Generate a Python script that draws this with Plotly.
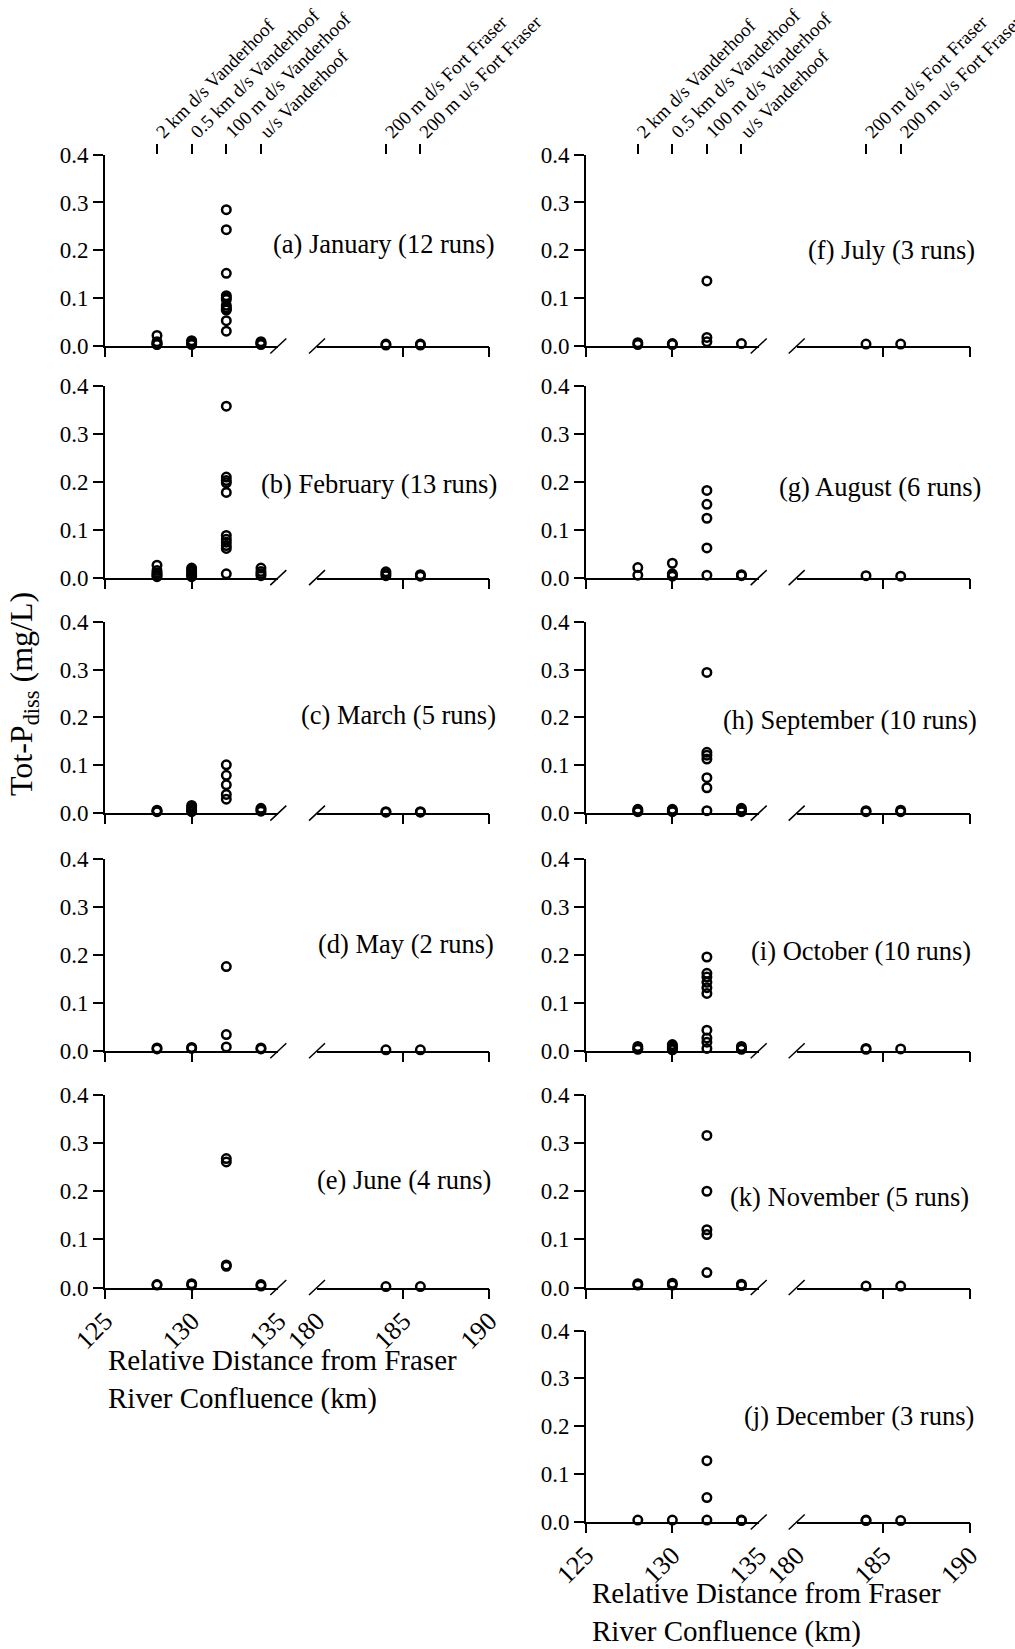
import plotly.graph_objects as go

# ---------------- data ----------------
site_km = [128, 130, 132, 134, 184, 186]
site_labels = ["2 km d/s Vanderhoof", "0.5 km d/s Vanderhoof", "100 m d/s Vanderhoof",
               "u/s Vanderhoof", "200 m d/s Fort Fraser", "200 m u/s Fort Fraser"]
left_ticks = [125, 130, 135]
right_ticks = [180, 185, 190]
y_ticks = [0.0, 0.1, 0.2, 0.3, 0.4]
y_ticktext = ["0.0", "0.1", "0.2", "0.3", "0.4"]

# values per site (order of site_km)
january = [
    [0.022, 0.009, 0.006, 0.004, 0.003],
    [0.011, 0.009, 0.007, 0.005, 0.003],
    [0.285, 0.243, 0.152, 0.105, 0.101, 0.097, 0.085, 0.080, 0.077, 0.075, 0.053, 0.031],
    [0.009, 0.007, 0.005, 0.003],
    [0.004, 0.002],
    [0.004, 0.002],
]
february = [
    [0.026, 0.015, 0.010, 0.007, 0.004, 0.002],
    [0.020, 0.016, 0.012, 0.008, 0.005, 0.002],
    [0.358, 0.210, 0.203, 0.198, 0.178, 0.088, 0.080, 0.074, 0.067, 0.061, 0.008],
    [0.020, 0.013, 0.008, 0.004],
    [0.012, 0.008, 0.004],
    [0.006, 0.003],
]
march = [
    [0.006, 0.004, 0.003],
    [0.016, 0.012, 0.008, 0.005, 0.003],
    [0.101, 0.079, 0.059, 0.039, 0.029],
    [0.010, 0.007, 0.004],
    [0.003, 0.002],
    [0.003, 0.002],
]
may = [
    [0.006, 0.004],
    [0.007, 0.005],
    [0.176, 0.034, 0.008],
    [0.006, 0.004],
    [0.002],
    [0.002],
]
june = [
    [0.006, 0.005],
    [0.008, 0.005],
    [0.268, 0.261, 0.047, 0.044],
    [0.006, 0.003],
    [0.002],
    [0.002],
]
july = [
    [0.007, 0.003],
    [0.005, 0.003],
    [0.136, 0.018, 0.009],
    [0.005],
    [0.004],
    [0.004],
]
august = [
    [0.021, 0.005],
    [0.030, 0.008, 0.005, 0.003],
    [0.182, 0.153, 0.124, 0.062, 0.005],
    [0.006, 0.004],
    [0.004],
    [0.003],
]
september = [
    [0.008, 0.005, 0.003],
    [0.008, 0.005, 0.003],
    [0.294, 0.127, 0.121, 0.113, 0.074, 0.053, 0.005],
    [0.010, 0.006, 0.003],
    [0.005, 0.003],
    [0.006, 0.003],
]
october = [
    [0.009, 0.005, 0.003],
    [0.013, 0.010, 0.007, 0.004, 0.002],
    [0.196, 0.162, 0.154, 0.143, 0.132, 0.120, 0.043, 0.027, 0.018, 0.005],
    [0.009, 0.005, 0.003],
    [0.005, 0.003],
    [0.004],
]
november = [
    [0.008, 0.005],
    [0.009, 0.005],
    [0.316, 0.200, 0.120, 0.110, 0.031],
    [0.007, 0.004],
    [0.003],
    [0.003],
]
december = [
    [0.004],
    [0.004],
    [0.128, 0.051, 0.004],
    [0.004, 0.003],
    [0.004, 0.003],
    [0.003],
]

# ---------------- layout geometry (pixels) ----------------
W, H = 1015, 1649
FONT = "Liberation Serif, Times New Roman, serif"

col_px = [(105.0, 278.3, 317.0, 489.3), (586.0, 758.7, 796.7, 970.0)]
row_px = [(154.6, 346.0), (386.1, 577.6), (621.7, 813.1),
          (859.4, 1050.8), (1095.0, 1287.5), (1330.5, 1522.0)]

# label, data, column, row, label right edge (px), label y (data)
panels = [
    ("(a) January (12 runs)", january, 0, 0, 497, 0.213),
    ("(b) February (13 runs)", february, 0, 1, 499, 0.195),
    ("(c) March (5 runs)", march, 0, 2, 497.5, 0.205),
    ("(d) May (2 runs)", may, 0, 3, 495.5, 0.223),
    ("(e) June (4 runs)", june, 0, 4, 493, 0.224),
    ("(f) July (3 runs)", july, 1, 0, 977, 0.200),
    ("(g) August (6 runs)", august, 1, 1, 982.5, 0.189),
    ("(h) September (10 runs)", september, 1, 2, 979, 0.195),
    ("(i) October (10 runs)", october, 1, 3, 973, 0.208),
    ("(k) November (5 runs)", november, 1, 4, 971, 0.189),
    ("(j) December (3 runs)", december, 1, 5, 976, 0.221),
]


def xkey(i):
    return "xaxis" if i == 1 else f"xaxis{i}"


def xr(i):
    return "x" if i == 1 else f"x{i}"


def ykey(i):
    return "yaxis" if i == 1 else f"yaxis{i}"


def yr(i):
    return "y" if i == 1 else f"y{i}"


fig = go.Figure()
layout = dict(
    template="none",
    width=W, height=H, autosize=False,
    margin=dict(l=0, r=0, t=0, b=0, pad=0),
    paper_bgcolor="white", plot_bgcolor="rgba(0,0,0,0)",
    showlegend=False,
    font=dict(family=FONT, color="black", size=22),
)
shapes = []
annotations = []

marker = dict(symbol="circle-open", size=8.5, color="black", line=dict(width=2.5, color="black"))
base_x = dict(showgrid=False, zeroline=False, fixedrange=True, color="black",
              automargin=False, ticklabeloverflow="allow")


def ghost(xa, ya, xval):
    # invisible helper so overlay axes get drawn
    fig.add_trace(go.Scatter(x=[xval], y=[0], mode="markers", xaxis=xa, yaxis=ya,
                             marker=dict(size=1, opacity=0), hoverinfo="skip",
                             showlegend=False))


ax = 0
for pi, (label, data, col, row, lx, ly) in enumerate(panels):
    n = pi + 1
    l0, l1, r0, r1 = col_px[col]
    top, zero = row_px[row]
    bottom_panel = (col == 0 and row == 4) or (col == 1 and row == 5)
    top_panel = row == 0

    ax += 1; xl = ax
    ax += 1; xlt = ax
    ax += 1; xrr = ax
    ax += 1; xrt = ax

    dom_l = [l0 / W, l1 / W]
    dom_r = [r0 / W, r1 / W]

    xtickfont = dict(size=26, family=FONT, color="black")
    layout[xkey(xl)] = dict(base_x, domain=dom_l, range=[125, 135], anchor=yr(n),
                            showline=True, linewidth=2, linecolor="black", ticks="",
                            tickmode="array", tickvals=left_ticks,
                            ticktext=[str(v) for v in left_ticks],
                            showticklabels=bottom_panel, tickangle=-45,
                            ticklabelstandoff=6, tickfont=xtickfont)
    layout[xkey(xlt)] = dict(base_x, domain=dom_l, range=[125, 135], anchor=yr(n),
                             overlaying=xr(xl), showline=False, ticks="outside",
                             ticklen=10, tickwidth=2, tickcolor="black",
                             tickmode="array", tickvals=left_ticks[:2], showticklabels=False)
    layout[xkey(xrr)] = dict(base_x, domain=dom_r, range=[180, 190], anchor=yr(n),
                             showline=True, linewidth=2, linecolor="black", ticks="",
                             tickmode="array", tickvals=right_ticks,
                             ticktext=[str(v) for v in right_ticks],
                             showticklabels=bottom_panel, tickangle=-45,
                             ticklabelstandoff=6, tickfont=xtickfont)
    layout[xkey(xrt)] = dict(base_x, domain=dom_r, range=[180, 190], anchor=yr(n),
                             overlaying=xr(xrr), showline=False, ticks="outside",
                             ticklen=10, tickwidth=2, tickcolor="black",
                             tickmode="array", tickvals=right_ticks[1:], showticklabels=False)
    ghost(xr(xlt), yr(n), 125)
    ghost(xr(xrt), yr(n), 180)

    if top_panel:
        ax += 1; xtl = ax
        ax += 1; xtr = ax
        toptickfont = dict(size=19, family=FONT, color="black")
        layout[xkey(xtl)] = dict(base_x, domain=dom_l, range=[125, 135], anchor=yr(n),
                                 overlaying=xr(xl), side="top", showline=False,
                                 ticks="outside", ticklen=10, tickwidth=2, tickcolor="black",
                                 tickmode="array", tickvals=site_km[:4], ticktext=site_labels[:4],
                                 tickangle=-45, ticklabelstandoff=-6, tickfont=toptickfont)
        layout[xkey(xtr)] = dict(base_x, domain=dom_r, range=[180, 190], anchor=yr(n),
                                 overlaying=xr(xrr), side="top", showline=False,
                                 ticks="outside", ticklen=10, tickwidth=2, tickcolor="black",
                                 tickmode="array", tickvals=site_km[4:], ticktext=site_labels[4:],
                                 tickangle=-45, ticklabelstandoff=-6, tickfont=toptickfont)
        ghost(xr(xtl), yr(n), 125)
        ghost(xr(xtr), yr(n), 180)

    layout[ykey(n)] = dict(domain=[1 - zero / H, 1 - top / H], range=[0, 0.4], anchor=xr(xl),
                           showline=True, linewidth=2, linecolor="black",
                           ticks="outside", ticklen=10, tickwidth=2, tickcolor="black",
                           tickmode="array", tickvals=y_ticks, ticktext=y_ticktext,
                           tickfont=dict(size=23, family=FONT, color="black"),
                           showgrid=False, zeroline=False, fixedrange=True, automargin=False)

    # points
    xs_l, ys_l, xs_r, ys_r = [], [], [], []
    for km, vals in zip(site_km, data):
        if km < 150:
            xs_l += [km] * len(vals); ys_l += vals
        else:
            xs_r += [km] * len(vals); ys_r += vals
    fig.add_trace(go.Scatter(x=xs_l, y=ys_l, mode="markers", xaxis=xr(xl), yaxis=yr(n),
                             marker=marker, cliponaxis=False, hoverinfo="skip"))
    fig.add_trace(go.Scatter(x=xs_r, y=ys_r, mode="markers", xaxis=xr(xrr), yaxis=yr(n),
                             marker=marker, cliponaxis=False, hoverinfo="skip"))

    # axis break slashes
    for bx in (l1, r0):
        shapes.append(dict(type="line", xref="paper", yref="paper",
                           x0=(bx - 8) / W, y0=1 - (zero + 7.5) / H,
                           x1=(bx + 8) / W, y1=1 - (zero - 7.5) / H,
                           line=dict(color="black", width=1.5)))

    annotations.append(dict(text=label, xref="paper", yref=yr(n), x=lx / W, y=ly,
                            xanchor="right", yanchor="middle", showarrow=False,
                            font=dict(size=26.5, family=FONT, color="black")))

# axis titles
xtitle = "Relative Distance from Fraser<br>River Confluence (km)"
annotations.append(dict(text=xtitle, xref="paper", yref="paper", x=106 / W, y=1 - 1379 / H,
                        xanchor="left", yanchor="middle", align="left", showarrow=False,
                        font=dict(size=29, family=FONT, color="black")))
annotations.append(dict(text=xtitle, xref="paper", yref="paper", x=590 / W, y=1 - 1612 / H,
                        xanchor="left", yanchor="middle", align="left", showarrow=False,
                        font=dict(size=29, family=FONT, color="black")))
annotations.append(dict(text="Tot-P<sub>diss</sub> (mg/L)", xref="paper", yref="paper",
                        x=23 / W, y=1 - 694 / H, xanchor="center", yanchor="middle",
                        textangle=-90, showarrow=False,
                        font=dict(size=32, family=FONT, color="black")))

layout["shapes"] = shapes
layout["annotations"] = annotations
fig.update_layout(**layout)

fig.write_html("out.html", config={"displayModeBar": False},
               post_script="document.body.style.margin='0';document.body.style.overflow='hidden';")
